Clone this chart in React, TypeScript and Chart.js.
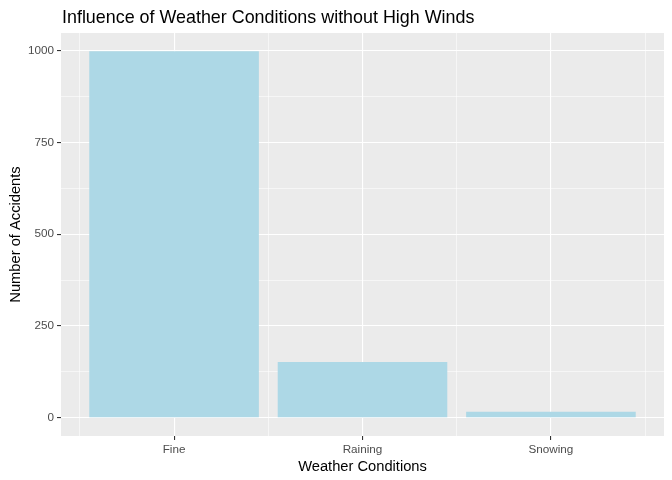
import React, { useEffect, useRef } from "react";
import { Chart, registerables } from "chart.js";

Chart.register(...registerables);

const categories = ["Fine", "Raining", "Snowing"];
const accidents = [998, 152, 16];
const yTicks = [0, 125, 250, 375, 500, 625, 750, 875, 1000];
const xTicks = [0.5, 1, 1.5, 2, 2.5, 3, 3.5];

const FONT = "'Liberation Sans', Arial, sans-serif";

export default function App() {
  const ref = useRef<HTMLCanvasElement | null>(null);

  useEffect(() => {
    document.body.style.margin = "0";
    const canvas = ref.current;
    if (!canvas) return;

    const panelBg = {
      id: "panelBg",
      beforeDraw(chart: any) {
        const { ctx, chartArea } = chart;
        ctx.save();
        ctx.fillStyle = "#EBEBEB";
        ctx.fillRect(chartArea.left, chartArea.top, chartArea.right - chartArea.left, chartArea.bottom - chartArea.top);
        ctx.restore();
      },
    };

    const titlePlugin = {
      id: "ggTitle",
      afterDraw(chart: any) {
        const { ctx, chartArea } = chart;
        ctx.save();
        ctx.fillStyle = "#000000";
        ctx.font = `17.9px ${FONT}`;
        ctx.textAlign = "left";
        ctx.textBaseline = "alphabetic";
        ctx.fillText("Influence of Weather Conditions without High Winds", chartArea.left + 1, 23);
        ctx.restore();
      },
    };

    const tickVal = (c: any) => (c && c.tick ? c.tick.value : null);
    const isMajorX = (v: any) => v !== null && Number.isInteger(v);
    const isMajorY = (v: any) => v !== null && v % 250 === 0;

    const chart = new Chart(canvas, {
      type: "bar",
      data: {
        datasets: [
          {
            data: accidents.map((y, i) => ({ x: i + 1, y })),
            backgroundColor: "#ADD8E6",
            borderWidth: 0,
            // ruler uses half-category tick spacing (minor ticks), so 1.8 == 90% of a category
            barPercentage: 1.8,
            categoryPercentage: 1,
          },
        ],
      },
      options: {
        animation: false,
        responsive: false,
        layout: { padding: { top: 33, right: 8, left: 0, bottom: 0 } },
        plugins: {
          legend: { display: false },
          tooltip: { enabled: false },
          title: { display: false },
        },
        scales: {
          x: {
            type: "linear",
            min: 0.4,
            max: 3.6,
            offset: false,
            afterBuildTicks: (scale: any) => {
              scale.ticks = xTicks.map((v) => ({ value: v }));
            },
            afterFit: (scale: any) => {
              scale.height = 44;
            },
            border: { display: false },
            grid: {
              offset: false,
              color: "#FFFFFF",
              lineWidth: (c: any) => (isMajorX(tickVal(c)) ? 1.1 : 0.55),
              tickColor: (c: any) => (isMajorX(tickVal(c)) ? "#333333" : "rgba(0,0,0,0)"),
              tickLength: 4,
              drawTicks: true,
            },
            ticks: {
              autoSkip: false,
              maxRotation: 0,
              padding: 3,
              color: "#4D4D4D",
              font: { family: FONT, size: 11.7 },
              callback: (v: any) => (Number.isInteger(v) ? categories[v - 1] : ""),
            },
            title: {
              display: true,
              text: "Weather Conditions",
              color: "#000000",
              font: { family: FONT, size: 14.7 },
              padding: { top: 0, bottom: 4 },
            },
          },
          y: {
            type: "linear",
            min: -49.9,
            max: 1047.8,
            afterBuildTicks: (scale: any) => {
              scale.ticks = yTicks.map((v) => ({ value: v }));
            },
            afterFit: (scale: any) => {
              scale.width = 61;
            },
            border: { display: false },
            grid: {
              color: "#FFFFFF",
              lineWidth: (c: any) => (isMajorY(tickVal(c)) ? 1.1 : 0.55),
              tickColor: (c: any) => (isMajorY(tickVal(c)) ? "#333333" : "rgba(0,0,0,0)"),
              tickLength: 4,
              drawTicks: true,
            },
            ticks: {
              autoSkip: false,
              padding: 3,
              color: "#4D4D4D",
              font: { family: FONT, size: 11.7 },
              callback: (v: any) => (isMajorY(v) ? String(v) : ""),
            },
            title: {
              display: true,
              text: "Number of Accidents",
              color: "#000000",
              font: { family: FONT, size: 14.7 },
              padding: { top: 7, bottom: 0 },
            },
          },
        },
      },
      plugins: [panelBg, titlePlugin],
    } as any);

    return () => chart.destroy();
  }, []);

  return (
    <div style={{ width: 672, height: 480 }}>
      <canvas ref={ref} width={672} height={480} style={{ display: "block" }} />
    </div>
  );
}
